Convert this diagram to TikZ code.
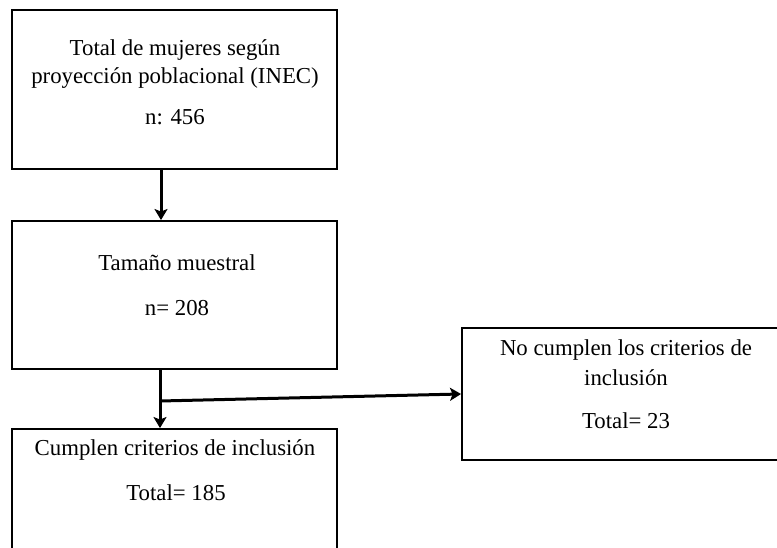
\documentclass[tikz,border=0pt]{standalone}
\usepackage{fontspec}
\setmainfont{Liberation Serif}
\usetikzlibrary{arrows.meta}
\tikzset{
  boxnode/.style={draw, line width=1.9pt, rectangle, inner sep=0pt},
  txt/.style={inner sep=0pt, font=\fontsize{22.8}{26}\selectfont, align=center},
  arr/.style={line width=3pt, -{Stealth[width=13pt,length=11pt,inset=2.5pt]}},
}
\begin{document}
\begin{tikzpicture}[x=1pt,y=-1pt]
\useasboundingbox (0,0) rectangle (777,548);
\fill[white] (0,0) rectangle (777,548);
\clip (0,0) rectangle (777,548);
% boxes
\node[boxnode, minimum width=325pt, minimum height=159pt] (b1) at (174.5,89.5) {};
\node[boxnode, minimum width=325pt, minimum height=148pt] (b2) at (174.5,295) {};
\node[boxnode, minimum width=325pt, minimum height=131pt] (b3) at (174.5,494.5) {};
\node[boxnode, minimum width=328pt, minimum height=132pt] (b4) at (626,394) {};
% texts
\node[txt] (t1a) at (175,50.5) {Total de mujeres según};
\node[txt] (t1b) at (175,78.5) {proyección poblacional (INEC)};
\node[txt] (t1c) at (175,117) {n: 456};
\node[txt] (t2a) at (177,263) {Tamaño muestral};
\node[txt] (t2b) at (177,308) {n= 208};
\node[txt] (t3a) at (175,450) {Cumplen criterios de inclusión};
\node[txt] (t3b) at (176,493) {Total= 185};
\node[txt] (t4a) at (626,350) {No cumplen los criterios de};
\node[txt] (t4b) at (626,378) {inclusión};
\node[txt] (t4c) at (626,421) {Total= 23};
% connectors
\draw[arr] ([xshift=-13.5pt]b1.south) -- ([xshift=-13.5pt]b2.north);
\draw[arr] ([xshift=-14.5pt]b2.south) -- ([xshift=-14.5pt]b3.north);
\coordinate (j) at (160,401);
\draw[arr] (j) -- (b4.west);
\end{tikzpicture}
\end{document}
